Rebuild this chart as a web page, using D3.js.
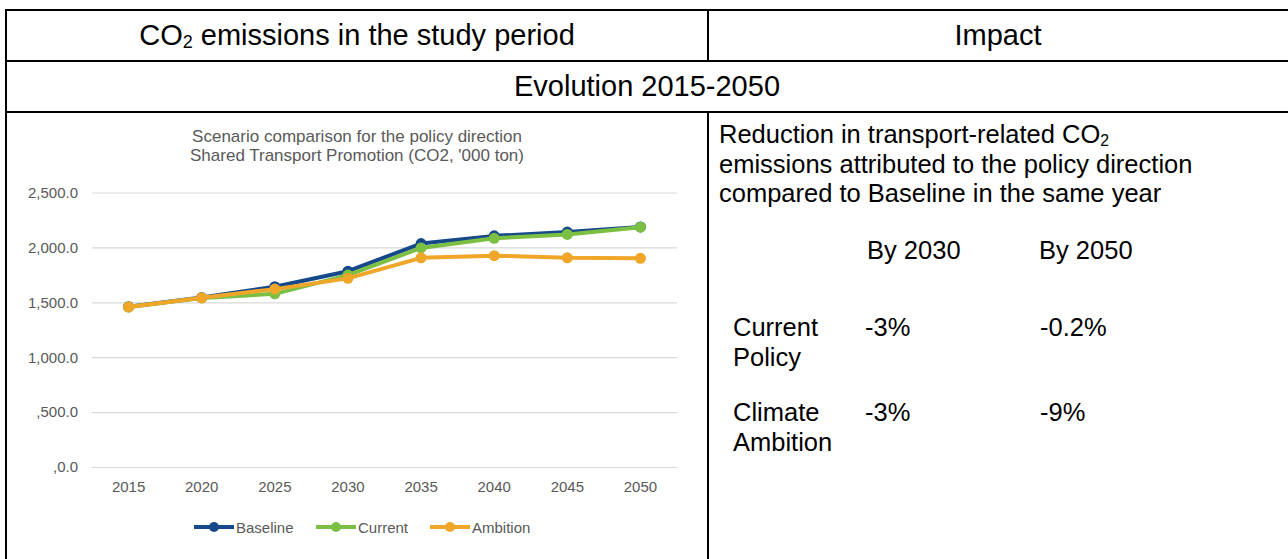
<!DOCTYPE html>
<html>
<head>
<meta charset="utf-8">
<script src="https://cdn.jsdelivr.net/npm/d3@7"></script>
<style>
  html, body { margin: 0; padding: 0; background: #fff; }
  svg { display: block; font-family: "Liberation Sans", Arial, sans-serif; }
</style>
</head>
<body>
<svg id="chart" width="1288" height="559"></svg>
<script>
// --- data ---
const years = ["2015", "2020", "2025", "2030", "2035", "2040", "2045", "2050"];
const baseline = [1460, 1543, 1642, 1783, 2035, 2105, 2140, 2186];
const current  = [1457, 1540, 1577, 1748, 1995, 2083, 2118, 2184];
const ambition = [1458, 1541, 1620, 1718, 1905, 1925, 1905, 1901];
const yTicks = [0, 500, 1000, 1500, 2000, 2500];
const seriesNames = ["Baseline", "Current", "Ambition"];
const seriesColors = ["#16498a", "#7bbf43", "#f0a629"];

const by2030 = ["-3%", "-3%"];
const by2050 = ["-0.2%", "-9%"];
const rowLabels = [["Current", "Policy"], ["Climate", "Ambition"]];

const svg = d3.select("#chart");

// --- table frame ---
const T = { left: 6, mid: 708, right: 1292, rows: [10, 61, 112], bottom: 562 };
const frame = svg.append("g").attr("stroke", "#000").attr("stroke-width", 2);
T.rows.forEach(y => frame.append("line").attr("x1", T.left - 1).attr("x2", T.right).attr("y1", y).attr("y2", y));
frame.append("line").attr("x1", T.left).attr("x2", T.left).attr("y1", T.rows[0]).attr("y2", T.bottom);
frame.append("line").attr("x1", T.mid).attr("x2", T.mid).attr("y1", T.rows[0]).attr("y2", T.rows[1]);
frame.append("line").attr("x1", T.mid).attr("x2", T.mid).attr("y1", T.rows[2]).attr("y2", T.bottom);

// helper: text with a CO2 subscript
function co2Text(g, x, y, before, after, anchor, size) {
  const t = g.append("text").attr("x", x).attr("y", y).attr("text-anchor", anchor)
    .attr("font-size", size).attr("fill", "#000");
  t.append("tspan").text(before + "CO");
  t.append("tspan").attr("font-size", size * 0.62).attr("dy", size * 0.12).text("2");
  if (after) t.append("tspan").attr("dy", -size * 0.12).text(after);
  return t;
}

const hs = 29;   // header size
const fs = 25.5; // cell text size
co2Text(svg, (T.left + T.mid) / 2, 45, "", " emissions in the study period", "middle", hs);
svg.append("text").attr("x", (T.mid + 1288) / 2).attr("y", 45).attr("text-anchor", "middle")
  .attr("font-size", hs).text("Impact");
svg.append("text").attr("x", 647).attr("y", 96).attr("text-anchor", "middle")
  .attr("font-size", hs).text("Evolution 2015-2050");

// --- right side text ---
const right = svg.append("g");
co2Text(right, 719, 143, "Reduction in transport-related ", null, "start", fs);
right.append("text").attr("x", 719).attr("y", 173).attr("font-size", fs).text("emissions attributed to the policy direction");
right.append("text").attr("x", 719).attr("y", 202).attr("font-size", fs).text("compared to Baseline in the same year");
right.append("text").attr("x", 867).attr("y", 259).attr("font-size", fs).text("By 2030");
right.append("text").attr("x", 1039).attr("y", 259).attr("font-size", fs).text("By 2050");
rowLabels.forEach((lab, i) => {
  const y0 = 336 + i * 85;
  right.append("text").attr("x", 733).attr("y", y0).attr("font-size", fs).text(lab[0]);
  right.append("text").attr("x", 733).attr("y", y0 + 30).attr("font-size", fs).text(lab[1]);
  right.append("text").attr("x", 865).attr("y", y0).attr("font-size", fs).text(by2030[i]);
  right.append("text").attr("x", 1040).attr("y", y0).attr("font-size", fs).text(by2050[i]);
});

// --- line chart ---
const x = d3.scaleBand().domain(years).range([92, 677]);
const y = d3.scaleLinear().domain([0, 2500]).range([467, 192.5]);
const chart = svg.append("g");
const grey = "#595959";

chart.append("text").attr("x", 357).attr("y", 142).attr("text-anchor", "middle")
  .attr("font-size", 17).attr("fill", grey).text("Scenario comparison for the policy direction");
chart.append("text").attr("x", 357).attr("y", 161).attr("text-anchor", "middle")
  .attr("font-size", 17).attr("fill", grey).text("Shared Transport Promotion (CO2, '000 ton)");

// excel-style labels: ",500.0" and ",0.0" below a thousand
const fmtY = d => d < 1000 ? "," + d3.format(".1f")(d) : d3.format(",.1f")(d);
const yAxis = d3.axisLeft(y).tickValues(yTicks).tickSize(-(677 - 92)).tickFormat(fmtY);
chart.append("g").attr("transform", "translate(92,0)").call(yAxis)
  .call(g => g.select(".domain").remove())
  .call(g => g.selectAll(".tick line").attr("stroke", "#d9d9d9").attr("stroke-width", 1.2))
  .call(g => g.selectAll(".tick text").attr("x", -14).attr("fill", grey)
    .attr("font-size", 15).attr("font-family", "'Liberation Sans', Arial, sans-serif"));

const xAxis = d3.axisBottom(x).tickSize(0).tickPadding(14);
chart.append("g").attr("transform", "translate(0,467)").call(xAxis)
  .call(g => g.select(".domain").remove())
  .call(g => g.selectAll(".tick text").attr("fill", grey)
    .attr("font-size", 15).attr("font-family", "'Liberation Sans', Arial, sans-serif"));

const allSeries = [baseline, current, ambition];
const cx = (d, i) => x(years[i]) + x.bandwidth() / 2;
const line = d3.line().x(cx).y(d => y(d));
allSeries.forEach((vals, s) => {
  const g = chart.append("g");
  g.append("path").datum(vals).attr("d", line).attr("fill", "none")
    .attr("stroke", seriesColors[s]).attr("stroke-width", 4).attr("stroke-linejoin", "round");
  g.selectAll("circle").data(vals).join("circle")
    .attr("cx", cx).attr("cy", d => y(d)).attr("r", 5.5).attr("fill", seriesColors[s]);
});

// legend
const legendX = [194, 316, 430];
seriesNames.forEach((name, s) => {
  const lg = chart.append("g").attr("transform", `translate(${legendX[s]},527)`);
  lg.append("line").attr("x1", 0).attr("x2", 40).attr("stroke", seriesColors[s]).attr("stroke-width", 4);
  lg.append("circle").attr("cx", 20).attr("r", 5).attr("fill", seriesColors[s]);
  lg.append("text").attr("x", 42).attr("y", 5.5).attr("font-size", 15).attr("fill", grey).text(name);
});
</script>
</body>
</html>
